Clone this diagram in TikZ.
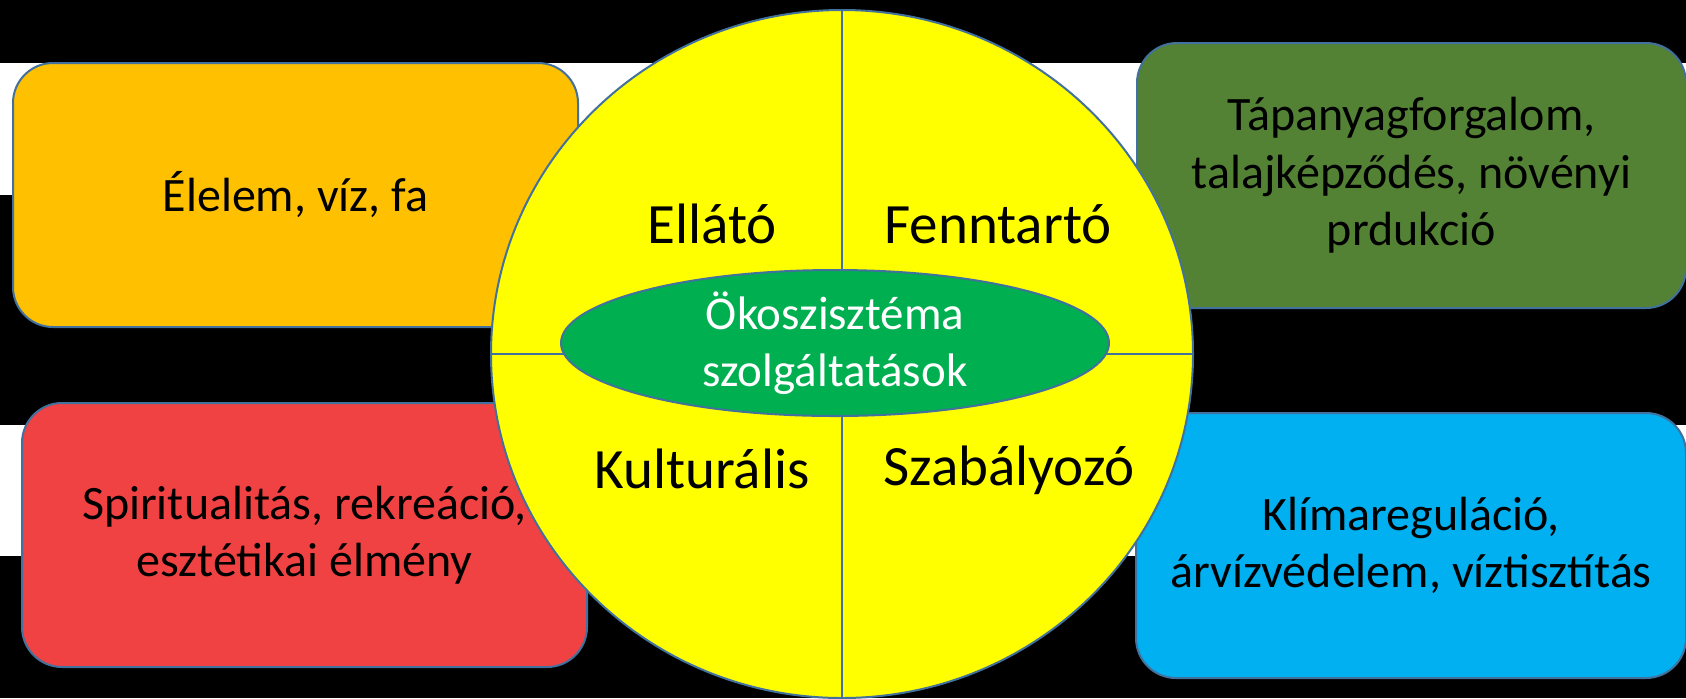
\documentclass[tikz,border=0pt]{standalone}
\usepackage{fontspec}
\setmainfont{Carlito}
\usepackage{xcolor}
\usepackage{tikz}
\usetikzlibrary{shapes.geometric}

\definecolor{edge}{HTML}{41719C}
\definecolor{foodorange}{HTML}{FFC000}
\definecolor{soilgreen}{HTML}{548235}
\definecolor{culturered}{HTML}{F04242}
\definecolor{waterblue}{HTML}{00B0F0}
\definecolor{coregreen}{HTML}{00B050}
\definecolor{wheelyellow}{HTML}{FFFF00}

\begin{document}
\begin{tikzpicture}[x=0.5pt, y=-0.5pt,
    card/.style={rectangle, rounded corners=20pt, draw=edge, line width=1pt,
      minimum height=132pt, align=center, inner sep=0pt,
      font=\fontsize{24pt}{28.8pt}\selectfont},
    sector/.style={anchor=base, inner sep=0pt,
      font=\fontsize{28.5pt}{34pt}\selectfont}]
      \useasboundingbox (0, 0) rectangle (1686, 698);
      \fill[black] (0, 0) rectangle (1686, 698);
      \fill[white] (0, 63) rectangle (1686, 195);
      \fill[white] (0, 425) rectangle (1686, 556);
      \node[card, fill=foodorange, minimum width=282.5pt] (food)
        at (295.5, 195) {Élelem, víz, fa};
      \node[card, fill=culturered, minimum width=282.5pt] (culture)
        at (304.5, 535) {Spiritualitás, rekreáció,\\esztétikai élmény};
      \node[card, fill=soilgreen, minimum width=274.5pt, minimum height=132.5pt] (soil)
        at (1411.5, 175.5) {Tápanyagforgalom,\\talajképződés, növényi\\prdukció};
      \node[card, fill=waterblue, minimum width=275pt, minimum height=132.5pt] (water)
        at (1411, 545.5) {Klímareguláció,\\árvízvédelem, víztisztítás};
      \node[ellipse, draw=edge, line width=1pt, fill=wheelyellow, inner sep=0pt,
        minimum width=351pt, minimum height=344pt] (wheel) at (842, 354) {};
      \draw[edge, line width=1pt] (wheel.north) -- (wheel.south);
      \draw[edge, line width=1pt] (wheel.west) -- (wheel.east);
      \node[ellipse, draw=edge, line width=1pt, fill=coregreen, inner sep=0pt,
        minimum width=274pt, minimum height=73pt, text=white, align=center,
        font=\fontsize{23.5pt}{28.5pt}\selectfont] (core)
        at (835, 343) {Ökoszisztéma\\szolgáltatások};
      \node[sector] (provide) at (712, 243) {Ellátó};
      \node[sector] (support) at (998, 243) {Fenntartó};
      \node[sector] (cultural) at (702, 488) {Kulturális};
      \node[sector] (regulate) at (1009, 485) {Szabályozó};
    \end{tikzpicture}
\end{document}
